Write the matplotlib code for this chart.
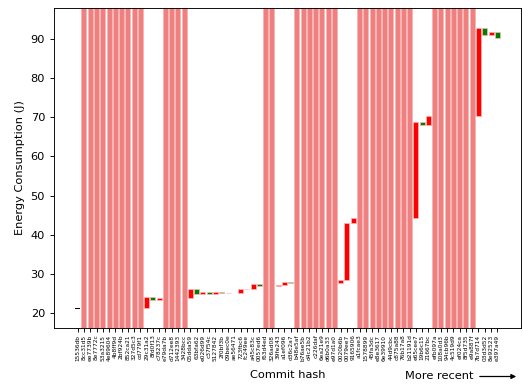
import numpy as np
import matplotlib
matplotlib.use("Agg")
import matplotlib.pyplot as plt

# ===== DATA =====
commits = [
    "15536db", "8cc31d5", "ee7739b", "8e7772c", "53a3215", "4e89604", "4b8ff9d",
    "2bf924b", "852ca21", "327d5c3", "cd779f1", "29c31a2", "8fd0f13", "c78237c",
    "e79da7b", "d712ee8", "1442393", "3428bcc", "05dda59", "63bfa62", "e026d99",
    "c37f54c", "5127842", "2f0bf3b", "09bec0e", "ae56471", "723fbc6", "fc249ee",
    "a45c83c", "0057ed6", "f63d4ed", "326ad08", "39fe243", "a1ef096", "d36c2a7",
    "b48e5af", "b76ae5b", "d4c21b2", "c226daf", "6ea21e9", "d6b0a33", "e97d1a0",
    "0020b6b", "0079ee7", "9165906", "a1fcae3", "1578899", "45fa3dc", "e8e3617",
    "6e39910", "44d9cbc", "c875a88", "76b17a8", "b21191d", "e65cee7", "19b6c15",
    "21667bc", "efb097a", "108a0d3", "94cb96b", "4c519d9", "ef024ca", "8f5d735",
    "e9a887f", "7b7d714", "03d3d52", "8e92523", "e397a49",
]

nan = np.nan
# median energy per commit (J); nan = no measurement
energy = [
    21.3,
    nan, nan, nan, nan, nan, nan, nan, nan, nan, nan,
    24.2, 23.3, 23.9,
    nan, nan, nan, nan,
    26.2, 24.95, 25.3, 25.0, 25.35, 25.05, 25.15,
    nan,
    26.3, 26.05, 27.55, 27.0,
    nan, nan,
    27.2, 28.0, 27.75,
    nan, nan, nan, nan, nan, nan, nan,
    28.45, 43.1, 44.2,
    nan, nan, nan, nan, nan, nan, nan, nan, nan,
    68.9, 68.0, 70.3,
    nan, nan, nan, nan, nan, nan, nan,
    92.7, 91.1, 91.7, 90.3,
]

# commits whose build / run failed (shaded)
failed = [1, 2, 3, 4, 5, 6, 7, 8, 9, 10,
          14, 15, 16, 17,
          30, 31,
          35, 36, 37, 38, 39, 40, 41,
          45, 46, 47, 48, 49, 50, 51, 52, 53,
          57, 58, 59, 60, 61, 62, 63]
# ================

plt.rcParams["font.size"] = 8.2
plt.rcParams["axes.linewidth"] = 0.66

fig = plt.figure(figsize=(5.23, 3.85), dpi=100)
ax = fig.add_axes([54 / 523, 1 - 327.7 / 385, 467 / 523, 319.4 / 385])

x = np.arange(len(commits))

# failed commits: full height shaded bars
ax.bar(failed, 200, bottom=0, width=0.8, color="#f08080",
       edgecolor="#f7b3b3", linewidth=0.5, zorder=1)

# first measurement: baseline marker
ax.bar(x[0], 0.25, bottom=energy[0] - 0.12, width=0.8, color="black", zorder=3)

prev = energy[0]
for i in range(1, len(energy)):
    v = energy[i]
    if np.isnan(v):
        continue
    col = "red" if v > prev else "green"
    ax.bar(x[i], abs(v - prev), bottom=min(v, prev), width=0.8, color=col,
           edgecolor="#f5b8b8", linewidth=0.5, zorder=3)
    prev = v

ax.set_xticks(x)
ax.set_xticklabels(commits, rotation=90, fontsize=4.2)
ax.tick_params(axis="x", length=2.9, width=0.66, pad=2)
ax.tick_params(axis="y", length=2.9, width=0.66)
ax.set_xlim(-3.79, 70.79)
ax.set_ylim(16.3, 97.8)
ax.set_yticks([20, 30, 40, 50, 60, 70, 80, 90])

ax.set_ylabel("Energy Consumption (J)")
fig.text(287.5 / 523, 1 - 375 / 385, "Commit hash", ha="center", va="center")
fig.text(405 / 523, 1 - 376 / 385, "More recent", ha="left", va="center")
ax.annotate("", xy=(519 / 523, 1 - 376.5 / 385), xycoords="figure fraction",
            xytext=(477 / 523, 1 - 376.5 / 385), textcoords="figure fraction",
            arrowprops=dict(arrowstyle="-|>", color="black", lw=0.9,
                            mutation_scale=7))

fig.savefig("out.png", dpi=100)
